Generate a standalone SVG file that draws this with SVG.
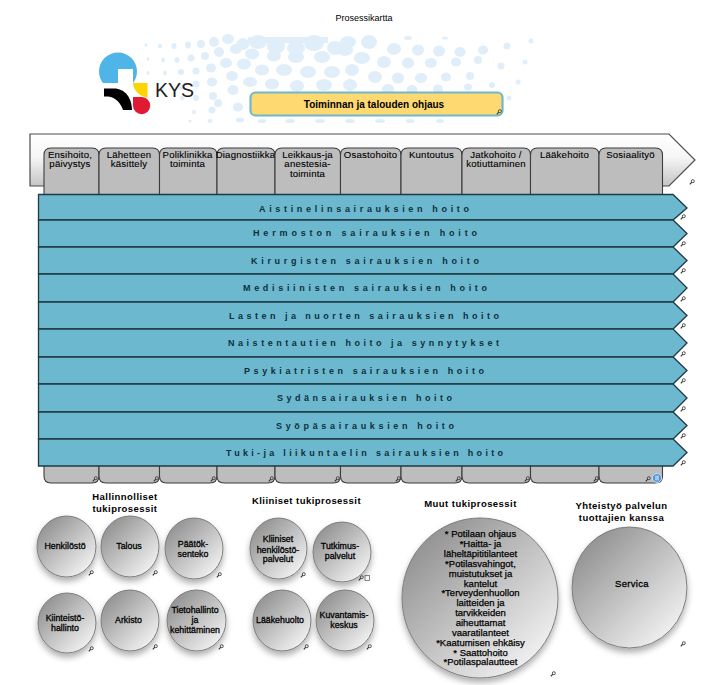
<svg xmlns="http://www.w3.org/2000/svg" width="723" height="685" viewBox="0 0 723 685">
<style>
text{font-family:"Liberation Sans",Arial,sans-serif;fill:#000}
.dots ellipse,.dots rect{fill:#e0eefa}
.tab{fill:#bdbdbd;stroke:#3c3c3c;stroke-width:1.1}
.tt{font-size:9.6px;letter-spacing:.2px;text-anchor:middle;stroke:#000;stroke-width:.12}
.row{fill:#6cb8cf;stroke:#1f3a46;stroke-width:1.3}
.rt{font-size:9px;font-weight:700;fill:#10303c}
.c{fill:url(#cg);stroke:#7d7d7d;stroke-width:1;filter:url(#sh)}
.ct{font-size:8.8px;text-anchor:middle;stroke:#000;stroke-width:.3}
.ht{font-size:9.5px;font-weight:700;letter-spacing:.45px;text-anchor:middle}
.mt{font-size:9.5px;text-anchor:middle;stroke:#000;stroke-width:.25}
</style>
<defs>
<linearGradient id="ag" x1="0" y1="0" x2="0" y2="1"><stop offset="0" stop-color="#fff"/><stop offset=".45" stop-color="#f6f6f6"/><stop offset="1" stop-color="#c4c4c4"/></linearGradient>
<linearGradient id="cg" x1=".12" y1=".1" x2=".88" y2=".9"><stop offset="0" stop-color="#909090"/><stop offset="1" stop-color="#f3f3f3"/></linearGradient>
<filter id="sh" x="-25%" y="-25%" width="150%" height="150%"><feDropShadow dx="0" dy="4" stdDeviation="3" flood-color="#000" flood-opacity=".32"/></filter>
<symbol id="mg" viewBox="0 0 6 6" overflow="visible"><circle cx="3.8" cy="2.2" r="1.5" fill="none" stroke="#444" stroke-width=".9"/><path d="M2.8 3.2 L.8 5.4" stroke="#333" stroke-width="1.1" fill="none"/></symbol>
</defs>
<rect width="723" height="685" fill="#fff"/>
<text x="364" y="20.5" font-size="9" text-anchor="middle">Prosessikartta</text>
<g id="background-dots" class="dots">
<ellipse cx="146" cy="45" rx="1.5" ry="2"/><ellipse cx="160" cy="46" rx="2" ry="2.5"/><ellipse cx="174" cy="46" rx="2.5" ry="3"/><ellipse cx="188" cy="45" rx="3" ry="3.5"/><ellipse cx="201" cy="44" rx="4" ry="4"/><ellipse cx="214" cy="42" rx="5" ry="5"/><ellipse cx="228" cy="39" rx="6" ry="5"/><ellipse cx="243" cy="44" rx="6.5" ry="6"/>
<rect x="248" y="37" width="80" height="6"/>
<ellipse cx="258" cy="42" rx="9" ry="7"/><ellipse cx="276" cy="46" rx="9" ry="8"/><ellipse cx="296" cy="48" rx="9" ry="7"/><ellipse cx="314" cy="43" rx="10" ry="8"/>
<ellipse cx="335" cy="48" rx="8" ry="7"/><ellipse cx="348" cy="42" rx="8" ry="6"/><ellipse cx="369" cy="42" rx="8" ry="7"/><ellipse cx="394" cy="49" rx="7" ry="6"/><ellipse cx="418" cy="50" rx="6" ry="5.5"/><ellipse cx="439" cy="51" rx="6" ry="5.5"/><ellipse cx="460" cy="52" rx="5.5" ry="5"/><ellipse cx="483" cy="50" rx="5" ry="4.5"/><ellipse cx="507" cy="46" rx="3.5" ry="3.5"/><ellipse cx="531" cy="41" rx="2.5" ry="2.5"/><ellipse cx="408" cy="38" rx="4" ry="2"/><ellipse cx="445" cy="38" rx="3" ry="1.5"/>
<ellipse cx="148" cy="59" rx="1.5" ry="2"/><ellipse cx="163" cy="60" rx="2" ry="2.5"/><ellipse cx="177" cy="60" rx="2.5" ry="3"/><ellipse cx="191" cy="58" rx="3.5" ry="3.5"/><ellipse cx="205" cy="56" rx="4" ry="4"/><ellipse cx="219" cy="52" rx="5" ry="5"/><ellipse cx="236" cy="49" rx="6" ry="5"/><ellipse cx="252" cy="54" rx="7" ry="5.5"/><ellipse cx="274" cy="56" rx="7" ry="5.5"/><ellipse cx="296" cy="57" rx="8" ry="6"/><ellipse cx="322" cy="57" rx="8" ry="6"/><ellipse cx="345" cy="50" rx="8" ry="6"/><ellipse cx="362" cy="58" rx="8" ry="6"/><ellipse cx="384" cy="62" rx="7" ry="6"/><ellipse cx="408" cy="63" rx="6" ry="5.5"/><ellipse cx="431" cy="63" rx="6" ry="5"/><ellipse cx="456" cy="62" rx="5" ry="4.5"/><ellipse cx="478" cy="60" rx="4" ry="4"/><ellipse cx="501" cy="66" rx="3.5" ry="3.5"/><ellipse cx="525" cy="62" rx="2.5" ry="2.5"/>
<ellipse cx="148" cy="73" rx="1.5" ry="2"/><ellipse cx="165" cy="73" rx="2" ry="2.5"/><ellipse cx="181" cy="72" rx="3" ry="3"/><ellipse cx="196" cy="71" rx="3.5" ry="3.5"/><ellipse cx="211" cy="68" rx="5" ry="4.5"/><ellipse cx="226" cy="63" rx="6" ry="5"/><ellipse cx="244" cy="64" rx="7" ry="5.5"/><ellipse cx="262" cy="70" rx="7" ry="5.5"/><ellipse cx="284" cy="70" rx="8" ry="6"/><ellipse cx="308" cy="72" rx="8" ry="6"/><ellipse cx="332" cy="72" rx="8" ry="6"/><ellipse cx="352" cy="70" rx="7" ry="6"/><ellipse cx="375" cy="77" rx="7" ry="6"/><ellipse cx="398" cy="78" rx="6" ry="5.5"/><ellipse cx="421" cy="78" rx="6" ry="5"/><ellipse cx="446" cy="77" rx="5" ry="4.5"/><ellipse cx="470" cy="76" rx="4" ry="4"/><ellipse cx="518" cy="82" rx="2.5" ry="2.5"/>
<ellipse cx="163" cy="88" rx="1.5" ry="2"/><ellipse cx="181" cy="87" rx="2.5" ry="3"/><ellipse cx="196" cy="84" rx="3.5" ry="3.5"/><ellipse cx="212" cy="82" rx="5" ry="4.5"/><ellipse cx="232" cy="76" rx="6" ry="5"/><ellipse cx="250" cy="82" rx="7" ry="5"/><ellipse cx="272" cy="84" rx="7" ry="5.5"/><ellipse cx="297" cy="86" rx="7" ry="6"/><ellipse cx="324" cy="85" rx="8" ry="6"/><ellipse cx="350" cy="85" rx="7" ry="6"/><ellipse cx="388" cy="89" rx="6" ry="5"/><ellipse cx="412" cy="90" rx="5.5" ry="5"/><ellipse cx="438" cy="89" rx="5" ry="4.5"/><ellipse cx="468" cy="87" rx="4" ry="3.5"/><ellipse cx="492" cy="85" rx="3" ry="3"/>
<ellipse cx="182" cy="98" rx="2" ry="2.5"/><ellipse cx="196" cy="98" rx="3" ry="3"/><ellipse cx="213" cy="96" rx="4" ry="4"/><ellipse cx="233" cy="90" rx="5.5" ry="5"/><ellipse cx="509" cy="98" rx="2.5" ry="2.5"/>
<ellipse cx="194" cy="112" rx="2" ry="2"/><ellipse cx="212" cy="110" rx="3.5" ry="3.5"/><ellipse cx="238" cy="107" rx="5" ry="4.5"/><ellipse cx="218" cy="103" rx="4" ry="4"/>
<ellipse cx="190" cy="121" rx="1.5" ry="1.5"/><ellipse cx="210" cy="121" rx="2.5" ry="2"/><ellipse cx="240" cy="120" rx="4" ry="2.5"/><ellipse cx="262" cy="121" rx="4.5" ry="2"/><ellipse cx="290" cy="121" rx="5" ry="2"/><ellipse cx="320" cy="121" rx="5" ry="2"/><ellipse cx="350" cy="121" rx="5" ry="2"/><ellipse cx="380" cy="121" rx="5" ry="2"/><ellipse cx="410" cy="121" rx="4.5" ry="2"/><ellipse cx="440" cy="121" rx="4" ry="2"/>
</g>
<g id="logo">
<circle cx="118" cy="71.5" r="19" fill="#4fb5e8"/>
<rect x="118" y="69" width="15" height="24" fill="#fff"/>
<rect x="98" y="83" width="40" height="9" fill="#fff"/>
<path d="M104 88.500H114C125 88.500 132 98 132 110H123C121 104 116 97 108 96.500H104Z" fill="#000"/>
<path d="M133 83H147.500V97.500C140 97 133 90 133 83Z" fill="#fbd500"/>
<path d="M133 97H142A8.600 8.600 0 1 1 133 106Z" fill="#e01a33"/>
<text x="155" y="97" font-size="19.500" style="fill:#1c1c1c">KYS</text>
</g>
<g id="ohjaus">
<rect x="250.500" y="92.500" width="252" height="23" rx="5" fill="#fed768" fill-opacity=".94" stroke="#6cb8cf" stroke-width="2.200"/>
<text x="374" y="107.500" font-size="10" font-weight="700" text-anchor="middle">Toiminnan ja talouden ohjaus</text>
<use href="#mg" x="496" y="109" width="6" height="6"/>
</g>
<g id="main-arrow">
<path d="M30 134H669L695 160L669 186H30Z" fill="url(#ag)" stroke="#4c4c4c" stroke-width="1.200"/>
<use href="#mg" x="689" y="179" width="6" height="6"/>
</g>
<g id="tab-ensihoito"><path class="tab" d="M44 196V155Q44 148 51 148H92Q99 148 99 155V196Z"/><text class="tt"><tspan x="70" y="157.500">Ensihoito,</tspan><tspan x="70" y="167">päivystys</tspan></text></g>
<g id="tab-lahetteen"><path class="tab" d="M99 196V155Q99 148 106 148H152.500Q159.500 148 159.500 155V196Z"/><text class="tt"><tspan x="129" y="157.500">Lähetteen</tspan><tspan x="129" y="167">käsittely</tspan></text></g>
<g id="tab-poliklinikka"><path class="tab" d="M159.500 196V155Q159.500 148 166.500 148H210Q217 148 217 155V196Z"/><text class="tt"><tspan x="187.500" y="157.500">Poliklinikka</tspan><tspan x="187.500" y="167">toiminta</tspan></text></g>
<g id="tab-diagnostiikka"><path class="tab" d="M217 196V155Q217 148 224 148H268Q275 148 275 155V196Z"/><text class="tt" x="245.500" y="157.500">Diagnostiikka</text></g>
<g id="tab-leikkaus"><path class="tab" d="M275 196V155Q275 148 282 148H333.500Q340.500 148 340.500 155V196Z"/><text class="tt"><tspan x="307.500" y="157.500">Leikkaus-ja</tspan><tspan x="307.500" y="167">anestesia-</tspan><tspan x="307.500" y="177">toiminta</tspan></text></g>
<g id="tab-osastohoito"><path class="tab" d="M340.500 196V155Q340.500 148 347.500 148H394Q401 148 401 155V196Z"/><text class="tt" x="370.500" y="157.500">Osastohoito</text></g>
<g id="tab-kuntoutus"><path class="tab" d="M401 196V155Q401 148 408 148H455Q462 148 462 155V196Z"/><text class="tt" x="431.500" y="157.500">Kuntoutus</text></g>
<g id="tab-jatkohoito"><path class="tab" d="M462 196V155Q462 148 469 148H523.500Q530.500 148 530.500 155V196Z"/><text class="tt"><tspan x="496" y="157.500">Jatkohoito /</tspan><tspan x="496" y="167">kotiuttaminen</tspan></text></g>
<g id="tab-laakehoito"><path class="tab" d="M530.500 196V155Q530.500 148 537.500 148H592Q599 148 599 155V196Z"/><text class="tt" x="564.500" y="157.500">Lääkehoito</text></g>
<g id="tab-sosiaalityo"><path class="tab" d="M599 196V155Q599 148 606 148H655.500Q662.500 148 662.500 155V196Z"/><text class="tt" x="630.500" y="157.500">Sosiaalityö</text></g>
<g id="tabs-bottom">
<path class="tab" d="M44 465V476Q44 483 51 483H92Q99 483 99 476V465Z"/>
<path class="tab" d="M99 465V476Q99 483 106 483H152.500Q159.500 483 159.500 476V465Z"/>
<path class="tab" d="M159.500 465V476Q159.500 483 166.500 483H210Q217 483 217 476V465Z"/>
<path class="tab" d="M217 465V476Q217 483 224 483H268Q275 483 275 476V465Z"/>
<path class="tab" d="M275 465V476Q275 483 282 483H333.500Q340.500 483 340.500 476V465Z"/>
<path class="tab" d="M340.500 465V476Q340.500 483 347.500 483H394Q401 483 401 476V465Z"/>
<path class="tab" d="M401 465V476Q401 483 408 483H455Q462 483 462 476V465Z"/>
<path class="tab" d="M462 465V476Q462 483 469 483H523.500Q530.500 483 530.500 476V465Z"/>
<path class="tab" d="M530.500 465V476Q530.500 483 537.500 483H592Q599 483 599 476V465Z"/>
<path class="tab" d="M599 465V476Q599 483 606 483H655.500Q662.500 483 662.500 476V465Z"/>
<use href="#mg" x="92" y="476" width="6" height="6"/><use href="#mg" x="153" y="476" width="6" height="6"/><use href="#mg" x="210" y="476" width="6" height="6"/><use href="#mg" x="268" y="476" width="6" height="6"/><use href="#mg" x="334" y="476" width="6" height="6"/><use href="#mg" x="395" y="476" width="6" height="6"/><use href="#mg" x="455" y="476" width="6" height="6"/><use href="#mg" x="524" y="476" width="6" height="6"/><use href="#mg" x="593" y="476" width="6" height="6"/><use href="#mg" x="645" y="476" width="6" height="6"/>
<circle cx="657" cy="478" r="4.500" fill="#4a90d9" stroke="#cfe3f5" stroke-width="1"/><path d="M656 475.500V480.500M658 475.500V480.500" stroke="#fff" stroke-width="1"/>
</g>
<g id="row-aistin"><path class="row" d="M38.500 194.500H673L687 208L673 220H38.500Z"/><text class="rt" x="259" y="212" textLength="210">Aistinelinsairauksien hoito</text><use href="#mg" x="680" y="214" width="6" height="6"/></g>
<g id="row-hermosto"><path class="row" d="M38.500 220H673L687 233.500L673 247H38.500Z"/><text class="rt" x="253" y="236" textLength="224">Hermoston sairauksien hoito</text><use href="#mg" x="680" y="241" width="6" height="6"/></g>
<g id="row-kirurgia"><path class="row" d="M38.500 247H673L687 260.500L673 274H38.500Z"/><text class="rt" x="251" y="264" textLength="228">Kirurgisten sairauksien hoito</text><use href="#mg" x="680" y="268" width="6" height="6"/></g>
<g id="row-medisiininen"><path class="row" d="M38.500 274H673L687 288L673 302H38.500Z"/><text class="rt" x="243" y="291" textLength="244">Medisiinisten sairauksien hoito</text><use href="#mg" x="680" y="296" width="6" height="6"/></g>
<g id="row-lasten"><path class="row" d="M38.500 302H673L687 315.500L673 329H38.500Z"/><text class="rt" x="229" y="319" textLength="270">Lasten ja nuorten sairauksien hoito</text><use href="#mg" x="680" y="323" width="6" height="6"/></g>
<g id="row-naisten"><path class="row" d="M38.500 329H673L687 343L673 357H38.500Z"/><text class="rt" x="228" y="346" textLength="271">Naistentautien hoito ja synnytykset</text><use href="#mg" x="680" y="351" width="6" height="6"/></g>
<g id="row-psykiatria"><path class="row" d="M38.500 357H673L687 370.500L673 384H38.500Z"/><text class="rt" x="244" y="374" textLength="240">Psykiatristen sairauksien hoito</text><use href="#mg" x="680" y="378" width="6" height="6"/></g>
<g id="row-sydan"><path class="row" d="M38.500 384H673L687 398L673 412H38.500Z"/><text class="rt" x="277" y="401" textLength="175">Sydänsairauksien hoito</text><use href="#mg" x="680" y="406" width="6" height="6"/></g>
<g id="row-syopa"><path class="row" d="M38.500 412H673L687 425.500L673 439H38.500Z"/><text class="rt" x="276" y="429" textLength="178">Syöpäsairauksien hoito</text><use href="#mg" x="680" y="433" width="6" height="6"/></g>
<g id="row-tuki"><path class="row" d="M38.500 439H673L687 452.500L673 466H38.500Z"/><text class="rt" x="226" y="456" textLength="277">Tuki-ja liikuntaelin sairauksien hoito</text><use href="#mg" x="680" y="460" width="6" height="6"/></g>
<text class="ht"><tspan x="125" y="500">Hallinnolliset</tspan><tspan x="125" y="512">tukiprosessit</tspan></text>
<text class="ht" x="306.500" y="504">Kliiniset tukiprosessit</text>
<text class="ht" x="470.500" y="507">Muut tukiprosessit</text>
<text class="ht"><tspan x="621.500" y="509">Yhteistyö palvelun</tspan><tspan x="621.500" y="521">tuottajien kanssa</tspan></text>
<g id="henkilosto"><ellipse class="c" cx="66.500" cy="546.500" rx="29.500" ry="30.500"/><text class="ct" x="65" y="549">Henkilöstö</text><use href="#mg" x="88" y="570" width="6" height="6"/></g>
<g id="talous"><ellipse class="c" cx="130" cy="546.500" rx="29" ry="30.500"/><text class="ct" x="129" y="549">Talous</text><use href="#mg" x="152" y="570" width="6" height="6"/></g>
<g id="paatoksenteko"><ellipse class="c" cx="194" cy="548.500" rx="29" ry="30.500"/><text class="ct"><tspan x="193" y="547">Päätök-</tspan><tspan x="193" y="557">senteko</tspan></text><use href="#mg" x="216" y="572" width="6" height="6"/></g>
<g id="kiinteisto"><ellipse class="c" cx="67" cy="623" rx="29" ry="30"/><text class="ct"><tspan x="65" y="621">Kiinteistö-</tspan><tspan x="65" y="630.500">hallinto</tspan></text><use href="#mg" x="88" y="646" width="6" height="6"/></g>
<g id="arkisto"><ellipse class="c" cx="130" cy="620.500" rx="29" ry="30.500"/><text class="ct" x="128.500" y="623">Arkisto</text><use href="#mg" x="152" y="644" width="6" height="6"/></g>
<g id="tietohallinto"><ellipse class="c" cx="196.500" cy="620.500" rx="29.500" ry="30.500"/><text class="ct"><tspan x="195" y="612.500">Tietohallinto</tspan><tspan x="195" y="623">ja</tspan><tspan x="195" y="633">kehittäminen</tspan></text><use href="#mg" x="218" y="644" width="6" height="6"/></g>
<g id="kliiniset"><ellipse class="c" cx="278.500" cy="548.500" rx="28.500" ry="30.500"/><text class="ct"><tspan x="278" y="542">Kliiniset</tspan><tspan x="278" y="553">henkilöstö-</tspan><tspan x="278" y="562">palvelut</tspan></text><use href="#mg" x="300" y="572" width="6" height="6"/></g>
<g id="tutkimus"><ellipse class="c" cx="342" cy="552" rx="29" ry="30"/><text class="ct"><tspan x="340" y="549">Tutkimus-</tspan><tspan x="340" y="559">palvelut</tspan></text><use href="#mg" x="358" y="575" width="6" height="6"/><rect x="365" y="575.500" width="4.500" height="5" fill="none" stroke="#666" stroke-width=".8"/></g>
<g id="laakehuolto"><ellipse class="c" cx="282" cy="620.500" rx="29" ry="30.500"/><text class="ct" x="280" y="623">Lääkehuolto</text><use href="#mg" x="303" y="644" width="6" height="6"/></g>
<g id="kuvantamis"><ellipse class="c" cx="345" cy="620.500" rx="29" ry="30.500"/><text class="ct"><tspan x="344" y="618">Kuvantamis-</tspan><tspan x="344" y="627.500">keskus</tspan></text><use href="#mg" x="366" y="644" width="6" height="6"/></g>
<g id="muut"><ellipse class="c" cx="480" cy="598" rx="78" ry="80"/>
<text class="mt"><tspan x="480.500" y="537">* Potilaan ohjaus</tspan><tspan x="480.500" y="547">*Haitta- ja</tspan><tspan x="480.500" y="557">läheltäpititilanteet</tspan><tspan x="480.500" y="566.500">*Potilasvahingot,</tspan><tspan x="480.500" y="576.500">muistutukset ja</tspan><tspan x="480.500" y="586.500">kantelut</tspan><tspan x="480.500" y="596">*Terveydenhuollon</tspan><tspan x="480.500" y="606">laitteiden ja</tspan><tspan x="480.500" y="616">tarvikkeiden</tspan><tspan x="480.500" y="626">aiheuttamat</tspan><tspan x="480.500" y="636">vaaratilanteet</tspan><tspan x="480.500" y="646">*Kaatumisen ehkäisy</tspan><tspan x="480.500" y="655.500">* Saattohoito</tspan><tspan x="480.500" y="665">*Potilaspalautteet</tspan></text>
<use href="#mg" x="550" y="671" width="6" height="6"/></g>
<g id="servica"><ellipse class="c" cx="629.500" cy="587.500" rx="57.500" ry="60.500"/><text class="ct" x="632" y="587" style="letter-spacing:.3px;font-size:9.500px">Servica</text><use href="#mg" x="680" y="641" width="6" height="6"/></g>
</svg>
